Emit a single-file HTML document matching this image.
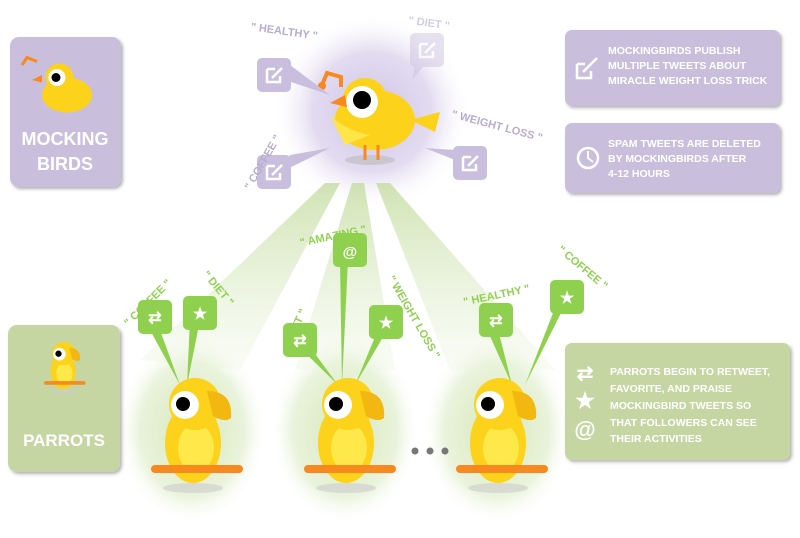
<!DOCTYPE html>
<html><head><meta charset="utf-8"><style>
body{margin:0;background:#fff;}
svg{display:block;font-family:"Liberation Sans",sans-serif;font-weight:bold;}
</style></head><body>
<svg width="800" height="538" viewBox="0 0 800 538" xmlns="http://www.w3.org/2000/svg">
<defs>
<radialGradient id="pg"><stop offset="0" stop-color="#cfc3e6"/><stop offset="0.6" stop-color="#e3dcf0"/><stop offset="1" stop-color="#fff" stop-opacity="0"/></radialGradient>
<radialGradient id="gg"><stop offset="0" stop-color="#d6e8b8"/><stop offset="0.7" stop-color="#eaf3dc"/><stop offset="1" stop-color="#fff" stop-opacity="0"/></radialGradient>
<linearGradient id="bm" x1="0" y1="0" x2="0" y2="1"><stop offset="0" stop-color="#c4dca0"/><stop offset="1" stop-color="#e8f2d8" stop-opacity="0.3"/></linearGradient>
<filter id="sh"><feDropShadow dx="2" dy="2" stdDeviation="1.5" flood-color="#000" flood-opacity="0.3"/></filter>
<g id="parrot">
<ellipse cx="0" cy="70" rx="30" ry="5" fill="#ccc" opacity="0.6"/>
<ellipse cx="0" cy="25" rx="28" ry="40" fill="#fdd21a"/>
<ellipse cx="3" cy="30" rx="18" ry="24" fill="#ffe94a"/>
<circle cx="2" cy="-14" r="26" fill="#fdd21a"/>
<path d="M14 -27 Q40 -27 38 0 Q32 5 20 -2 Z" fill="#f2b711"/>
<circle cx="-8" cy="-13" r="14" fill="#fff"/>
<circle cx="-10" cy="-14" r="7" fill="#000"/>
<rect x="-42" y="47" width="92" height="8" rx="4" fill="#f7891f"/>
</g>
<g id="pb"><rect x="-17" y="-17" width="34" height="34" rx="5" fill="#c9bedd"/><path d="M-7 -6 h8 M-7 -6 v13 h13 v-6 M-2 3 l10 -10" stroke="#fff" stroke-width="2.5" fill="none"/></g>
<g id="gb"><rect x="-17" y="-17" width="34" height="34" rx="5" fill="#8fd14f"/></g>
</defs>

<circle cx="372" cy="112" r="100" fill="url(#pg)"/>
<ellipse cx="192" cy="430" rx="75" ry="95" fill="url(#gg)"/>
<ellipse cx="345" cy="430" rx="75" ry="95" fill="url(#gg)"/>
<ellipse cx="497" cy="430" rx="75" ry="95" fill="url(#gg)"/>
<polygon points="325,183 340,183 240,370 140,360" fill="url(#bm)" opacity="0.8"/>
<polygon points="352,183 364,183 395,370 295,370" fill="url(#bm)" opacity="0.8"/>
<polygon points="376,183 390,183 555,370 450,370" fill="url(#bm)" opacity="0.8"/>

<rect x="10" y="37" width="111" height="150" rx="9" fill="#c9bfdc" filter="url(#sh)"/>
<text x="65" y="145" font-size="18" fill="#fff" text-anchor="middle">MOCKING</text>
<text x="65" y="170" font-size="18" fill="#fff" text-anchor="middle">BIRDS</text>
<g transform="translate(62,85) scale(0.5)">
<ellipse cx="10" cy="20" rx="50" ry="35" fill="#fdd21a"/><circle cx="-5" cy="-15" r="28" fill="#fdd21a"/>
<circle cx="-10" cy="-15" r="17" fill="#fff"/><circle cx="-12" cy="-15" r="9" fill="#000"/>
<path d="M-40 -20 l-20 10 l20 5z" fill="#f7891f"/><path d="M-80 -40 l10 -15 l20 8" stroke="#f7891f" stroke-width="6" fill="none"/>
</g>
<rect x="8" y="325" width="112" height="147" rx="9" fill="#c5d6a3" filter="url(#sh)"/>
<text x="64" y="446" font-size="17" fill="#fff" text-anchor="middle">PARROTS</text>
<g transform="translate(63,360) scale(0.45)"><use href="#parrot"/></g>

<rect x="565" y="30" width="215" height="76" rx="7" fill="#c9bfdc" filter="url(#sh)"/>
<g font-size="10.5" fill="#fff"><text x="608" y="54">MOCKINGBIRDS PUBLISH</text><text x="608" y="69">MULTIPLE TWEETS ABOUT</text><text x="608" y="84">MIRACLE WEIGHT LOSS TRICK</text></g>
<path d="M577 64 h8 M577 64 v14 h14 v-7 M583 72 l14 -14" stroke="#fff" stroke-width="2.5" fill="none"/>
<rect x="565" y="123" width="215" height="70" rx="7" fill="#c9bfdc" filter="url(#sh)"/>
<g font-size="10.5" fill="#fff"><text x="608" y="147">SPAM TWEETS ARE DELETED</text><text x="608" y="162">BY MOCKINGBIRDS AFTER</text><text x="608" y="177">4-12 HOURS</text></g>
<circle cx="588" cy="158" r="10" stroke="#fff" stroke-width="2.5" fill="none"/><path d="M588 151 v7 l5 4" stroke="#fff" stroke-width="2" fill="none"/>
<rect x="565" y="343" width="225" height="117" rx="7" fill="#c5d6a3" filter="url(#sh)"/>
<g font-size="10.5" fill="#fff"><text x="610" y="375">PARROTS BEGIN TO RETWEET,</text><text x="610" y="392">FAVORITE, AND PRAISE</text><text x="610" y="409">MOCKINGBIRD TWEETS SO</text><text x="610" y="426">THAT FOLLOWERS CAN SEE</text><text x="610" y="442">THEIR ACTIVITIES</text></g>
<text x="585" y="380" font-size="20" fill="#fff" text-anchor="middle">⇄</text>
<text x="585" y="408" font-size="22" fill="#fff" text-anchor="middle">★</text>
<text x="585" y="437" font-size="22" fill="#fff" text-anchor="middle">@</text>

<ellipse cx="370" cy="160" rx="25" ry="5" fill="#bbb" opacity="0.6"/>
<ellipse cx="375" cy="120" rx="40" ry="30" fill="#fdd21a"/>
<path d="M330 115 Q345 130 370 135 L345 145 Z" fill="#ffe44a"/>
<path d="M410 120 l30 -8 l-5 20 z" fill="#fdd21a"/>
<circle cx="365" cy="100" r="22" fill="#fdd21a"/>
<circle cx="362" cy="102" r="16" fill="#fff"/><circle cx="362" cy="100" r="9" fill="#000"/>
<path d="M345 95 l-15 8 l17 4z" fill="#f7891f"/>
<path d="M322 85 l5 -12 l14 4 v10" stroke="#f7891f" stroke-width="4" fill="none"/><circle cx="322" cy="86" r="4" fill="#f7891f"/>
<path d="M365 145 v15 M378 145 v15" stroke="#f7891f" stroke-width="3"/>

<polygon points="285,80 330,95 290,65" fill="#c9bedd"/>
<use href="#pb" x="274" y="75"/>
<polygon points="285,170 330,148 290,155" fill="#c9bedd"/>
<use href="#pb" x="274" y="172"/>
<polygon points="455,160 425,148 455,150" fill="#c9bedd"/>
<use href="#pb" x="470" y="163"/>
<g opacity="0.45"><polygon points="415,65 412,80 425,65" fill="#c9bedd"/><use href="#pb" x="427" y="50"/></g>

<g font-size="11" fill="#b8acd0">
<text x="250" y="35" transform="rotate(8 285 35)">" HEALTHY "</text>
<text x="230" y="185" transform="rotate(-60 245 170)">" COFFEE "</text>
<text x="408" y="26" transform="rotate(8 425 25)" opacity="0.6">" DIET "</text>
<text x="450" y="125" transform="rotate(15 480 125)">" WEIGHT LOSS "</text>
</g>

<g fill="#8fd14f">
<polygon points="150,330 160,330 180,385"/><polygon points="190,320 200,320 187,385"/>
<polygon points="292,340 305,340 338,385"/><polygon points="340,260 348,260 342,385"/><polygon points="380,325 390,325 355,385"/>
<polygon points="485,325 497,325 512,385"/><polygon points="560,295 570,295 525,385"/>
</g>
<use href="#gb" x="155" y="317"/><use href="#gb" x="200" y="313"/>
<use href="#gb" x="300" y="340"/><use href="#gb" x="350" y="250"/><use href="#gb" x="386" y="322"/>
<use href="#gb" x="496" y="320"/><use href="#gb" x="567" y="297"/>
<g fill="#fff" font-size="16" text-anchor="middle">
<text x="155" y="323">⇄</text><text x="200" y="319">★</text><text x="300" y="346">⇄</text><text x="350" y="257" font-size="15">@</text><text x="386" y="328">★</text><text x="496" y="326">⇄</text><text x="567" y="303">★</text>
</g>
<g font-size="11" fill="#8fd14f">
<text x="110" y="318" transform="rotate(-45 130 300)">" COFFEE "</text>
<text x="195" y="290" transform="rotate(50 215 290)">" DIET "</text>
<text x="255" y="345" transform="rotate(-65 275 320)">" DIET "</text>
<text x="298" y="240" transform="rotate(-12 330 230)">" AMAZING "</text>
<text x="375" y="300" transform="rotate(60 400 300)">" WEIGHT LOSS "</text>
<text x="462" y="300" transform="rotate(-12 490 292)">" HEALTHY "</text>
<text x="550" y="270" transform="rotate(40 580 270)">" COFFEE "</text>
</g>

<use href="#parrot" x="193" y="418"/>
<use href="#parrot" x="346" y="418"/>
<use href="#parrot" x="498" y="418"/>
<circle cx="415" cy="451" r="3.5" fill="#777"/><circle cx="430" cy="451" r="3.5" fill="#777"/><circle cx="445" cy="451" r="3.5" fill="#777"/>
</svg>
</body></html>
